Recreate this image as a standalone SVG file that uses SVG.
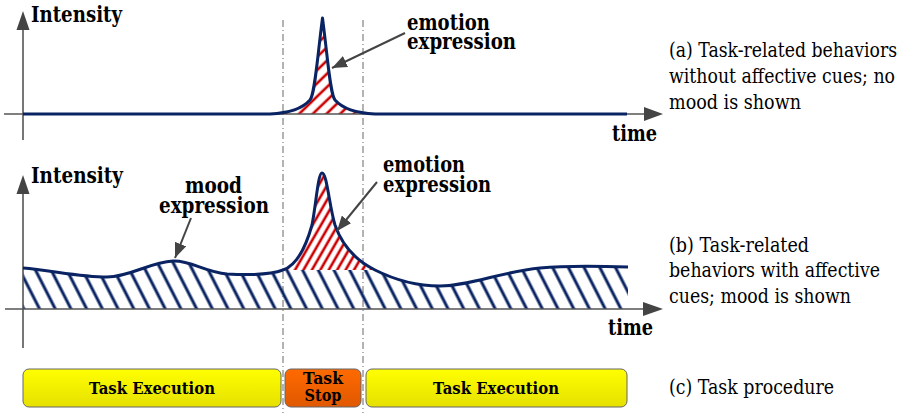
<svg xmlns="http://www.w3.org/2000/svg" width="907" height="413" viewBox="0 0 907 413">
<style>
.axis{stroke:#555;stroke-width:1.6;fill:none}
.ah{fill:#444}
.guide{stroke:#666;stroke-width:1;stroke-dasharray:7,3,1,3;fill:none}
.curve{stroke:#0a2463;stroke-width:3;fill:none;stroke-linejoin:round}
.ann{stroke:#444;stroke-width:2;fill:none}
text{font-family:'DejaVu Serif',serif;fill:#000}
.lbl{font-weight:bold;font-size:23px}
.cap{font-size:20px}
.box{stroke:#666;stroke-width:1}
.bt{font-weight:bold;font-size:17px;text-anchor:middle}
</style>
<defs>
<marker id="arr" markerUnits="userSpaceOnUse" markerWidth="16" markerHeight="12" refX="15" refY="6" orient="auto">
<path d="M0,0 L15,6 L0,12 z" fill="#444"/>
</marker>
<pattern id="navyHatch" patternUnits="userSpaceOnUse" width="14" height="14" patternTransform="rotate(-27)">
<line x1="7" y1="-2" x2="7" y2="16" stroke="#0a2463" stroke-width="3"/>
</pattern>
<pattern id="redHatchB" patternUnits="userSpaceOnUse" width="7.3" height="7.3" patternTransform="rotate(30)">
<line x1="3.6" y1="-2" x2="3.6" y2="10" stroke="#cc0000" stroke-width="2.6"/>
</pattern>
<pattern id="redHatchT" patternUnits="userSpaceOnUse" width="9.5" height="9.5" patternTransform="rotate(46)">
<line x1="4.7" y1="-2" x2="4.7" y2="12" stroke="#cc0000" stroke-width="2.6"/>
</pattern>
<linearGradient id="yel" x1="0" y1="0" x2="0" y2="1">
<stop offset="0" stop-color="#ffff00"/>
<stop offset="1" stop-color="#e6e000"/>
</linearGradient>
<linearGradient id="org" x1="0" y1="0" x2="0" y2="1">
<stop offset="0" stop-color="#ff6a00"/>
<stop offset="1" stop-color="#e05800"/>
</linearGradient>
</defs>

<g id="guides">
<line class="guide" x1="283" y1="20" x2="283" y2="413"/>
<line class="guide" x1="363" y1="20" x2="363" y2="413"/>
</g>

<g id="plot-a">
<path d="M270,114 C290,113 303,108 310,100 C315,94 317,60 322.5,18 C328,60 330,94 335,100 C342,108 355,113 375,114 Z" fill="url(#redHatchT)"/>
<line class="axis" x1="23" y1="28" x2="23" y2="140"/>
<path class="ah" d="M23,11 L16.5,30 L29.5,30 z"/>
<line class="axis" x1="4" y1="114" x2="646" y2="114"/>
<path class="ah" d="M663,114 L644,107 L644,121 z"/>
<path class="curve" d="M23,114 L270,114 C290,113 303,108 310,100 C315,94 317,60 322.5,18 C328,60 330,94 335,100 C342,108 355,113 375,114 L627,114"/>
<text class="lbl" x="31" y="22" textLength="91" lengthAdjust="spacingAndGlyphs">Intensity</text>
<text class="lbl" x="612" y="141" textLength="45" lengthAdjust="spacingAndGlyphs">time</text>
<text class="lbl" x="407" y="30" textLength="83" lengthAdjust="spacingAndGlyphs">emotion</text>
<text class="lbl" x="407" y="49" textLength="109" lengthAdjust="spacingAndGlyphs">expression</text>
</g>

<g id="plot-b">
<path d="M23,268 C50,270 80,277 107,277 C130,277 150,262 173,261 C190,260 205,272 227,274 C245,275 270,275 283,270 L375,270 C395,280 415,286 440,286 C470,286 500,272 540,268 C570,265 600,266 628,267 L628,309 L23,309 Z" fill="url(#navyHatch)"/>
<path d="M283,270 C295,266 305,250 312,225 C316,205 318,173 322,173 C327,173 329,205 335,225 C342,245 355,260 375,270 Z" fill="url(#redHatchB)"/>
<line class="axis" x1="23" y1="190" x2="23" y2="348"/>
<path class="ah" d="M23,175 L16.5,194 L29.5,194 z"/>
<line class="axis" x1="5" y1="309" x2="646" y2="309"/>
<path class="ah" d="M663,309 L643,302 L643,316 z"/>
<path class="curve" d="M23,268 C50,270 80,277 107,277 C130,277 150,262 173,261 C190,260 205,272 227,274 C245,275 270,275 283,270 C295,266 305,250 312,225 C316,205 318,173 322,173 C327,173 329,205 335,225 C342,245 355,260 375,270 C395,280 415,286 440,286 C470,286 500,272 540,268 C570,265 600,266 628,267"/>
<text class="lbl" x="31" y="183" textLength="92" lengthAdjust="spacingAndGlyphs">Intensity</text>
<text class="lbl" x="608" y="335" textLength="45" lengthAdjust="spacingAndGlyphs">time</text>
<text class="lbl" x="185" y="193" textLength="57" lengthAdjust="spacingAndGlyphs">mood</text>
<text class="lbl" x="159" y="213" textLength="110" lengthAdjust="spacingAndGlyphs">expression</text>
<text class="lbl" x="383" y="172" textLength="82" lengthAdjust="spacingAndGlyphs">emotion</text>
<text class="lbl" x="383" y="192" textLength="108" lengthAdjust="spacingAndGlyphs">expression</text>
</g>

<g id="connectors">
<line class="ann" x1="405" y1="33" x2="332" y2="68" marker-end="url(#arr)"/>
<line class="ann" x1="191" y1="218" x2="175" y2="258" marker-end="url(#arr)"/>
<line class="ann" x1="377" y1="182" x2="337" y2="231" marker-end="url(#arr)"/>
</g>

<g id="captions">
<text class="cap" x="669" y="57" textLength="228" lengthAdjust="spacingAndGlyphs">(a) Task-related behaviors</text>
<text class="cap" x="669" y="83" textLength="226" lengthAdjust="spacingAndGlyphs">without affective cues; no</text>
<text class="cap" x="669" y="109" textLength="132" lengthAdjust="spacingAndGlyphs">mood is shown</text>
<text class="cap" x="669" y="252" textLength="140" lengthAdjust="spacingAndGlyphs">(b) Task-related</text>
<text class="cap" x="669" y="277" textLength="211" lengthAdjust="spacingAndGlyphs">behaviors with affective</text>
<text class="cap" x="669" y="303" textLength="182" lengthAdjust="spacingAndGlyphs">cues; mood is shown</text>
<text class="cap" x="669" y="394" textLength="165" lengthAdjust="spacingAndGlyphs">(c) Task procedure</text>
</g>

<g id="task-exec-1">
<rect class="box" x="23" y="369" width="258" height="38" rx="6" fill="url(#yel)"/>
<text class="bt" x="152" y="394" textLength="126" lengthAdjust="spacingAndGlyphs">Task Execution</text>
</g>
<g id="task-stop">
<rect class="box" x="285" y="369" width="76" height="38" rx="6" fill="url(#org)"/>
<text class="bt" x="323" y="384" textLength="40" lengthAdjust="spacingAndGlyphs">Task</text>
<text class="bt" x="323" y="401" textLength="37" lengthAdjust="spacingAndGlyphs">Stop</text>
</g>
<g id="task-exec-2">
<rect class="box" x="366" y="369" width="261" height="38" rx="6" fill="url(#yel)"/>
<text class="bt" x="496" y="394" textLength="126" lengthAdjust="spacingAndGlyphs">Task Execution</text>
</g>
</svg>
